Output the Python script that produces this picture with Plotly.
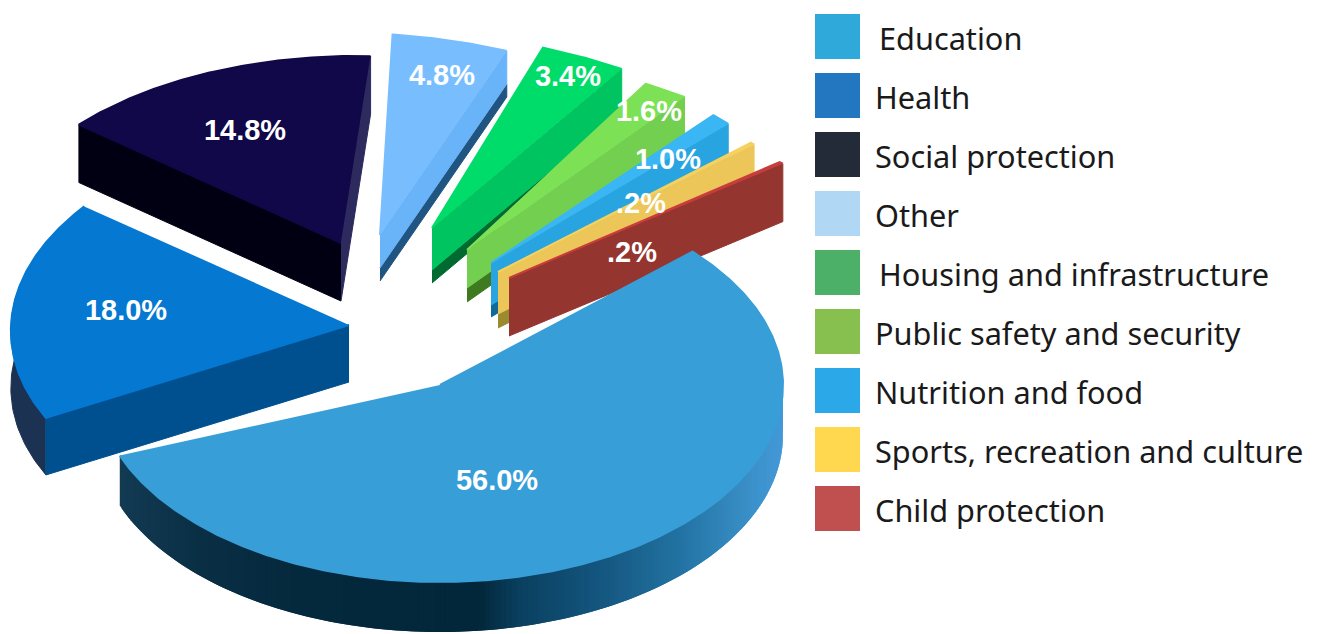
import math
import numpy as np
import plotly.graph_objects as go

# Budget shares, in percent, clockwise from the start angle
sectors = ["Education", "Health", "Social protection", "Other",
           "Housing and infrastructure", "Public safety and security",
           "Nutrition and food", "Sports, recreation and culture", "Child protection"]
shares = [56.0, 18.0, 14.8, 4.8, 3.4, 1.6, 1.0, 0.2, 0.2]

START_DEG = 42.6

# Placement of each exploded wedge: apex, radii, shear, rotation
apex_x = [440, 349, 341, 380, 432, 467, 491, 498, 509]
apex_y = [385, 325, 243, 235, 228, 250, 263, 272, 278]
radius_x = [343, 338, 350, 385, 395, 425, 330, 352, 372]
radius_y = [197, 198, 187, 202, 198, 207, 200, 186, 169]
shear = [0, 0.05, 0.074, -0.174, -0.288, -0.45, 0, 0, 0]
turn_deg = [0, 7, 4.5, 0, 0, 0, 0, 0, 0]

# Extrusion: main wall height and the darker foot below it
wall_h = [50, 57, 58, 33, 42, 38, 42, 42, 58]
foot_h = [0, 0, 0, 13, 13, 14, 12, 14, 0]

# Colours
top_colors = ["#389ED8", "#0578D2", "#100848", "#78BEFF", "#00DC6A",
              "#7DE155", "#3AB6F5", "#F5D260", "#C83C3C"]
wall_colors = [None, "#00508F", "#2D2A5E", "#69B3F8", "#00C45F",
               "#72CF50", "#28A5E0", "#ECC658", "#94352F"]
foot_colors = [None, None, None, "#1F5580", "#006A30",
               "#3E7A20", "#0F6A9A", "#9A8A30", None]
swatch_colors = ["#2FA8DA", "#2277C0", "#222B37", "#B0D8F5", "#4CB068",
                 "#88C050", "#2AA8E8", "#FFD850", "#C05050"]
SOCIAL_FRONT_WALL = "#000012"

# Label centres
label_x = [497, 126, 245, 442, 568, 649, 668, 641, 632]
label_y = [483, 313, 133, 78, 79, 114, 162, 206, 255]

# Legend layout
swatch_x = 837.5
swatch_y = [36.5, 95.5, 154.5, 213.5, 272.5, 331.5, 390.5, 449.5, 508.5]
legend_y = [37.5, 96.5, 155.5, 214.5, 273.5, 332.5, 391.5, 450.5, 509.5]
legend_text_x = [877, 873, 873, 873, 877, 873, 873, 873, 873]

# Shading of Education's outer wall along x
rim_x = [122, 200, 300, 480, 520, 600, 680, 750, 783]
rim_r = [18, 10, 4, 2, 10, 20, 34, 58, 68]
rim_g = [58, 47, 41, 39, 64, 86, 115, 144, 153]
rim_b = [82, 69, 61, 58, 96, 127, 162, 200, 216]


def sweep_bounds():
    bounds, angle = [], START_DEG
    for value in shares:
        sweep = value / sum(shares) * 360
        bounds.append((angle, angle - sweep))
        angle -= sweep
    return bounds


def rim_point(i, theta_deg):
    t = math.radians(theta_deg + turn_deg[i])
    rise = radius_y[i] * math.sin(t)
    return apex_x[i] + radius_x[i] * math.cos(t) + shear[i] * rise, apex_y[i] - rise


def polygon(fig, xs, ys, color, width=1):
    fig.add_trace(go.Scatter(x=list(xs), y=list(ys), mode="lines", fill="toself",
                             fillcolor=color, line=dict(color=color, width=width),
                             hoverinfo="skip", showlegend=False))


def edge_wall(fig, i, theta, color=None):
    rx, ry = rim_point(i, theta)
    ax, ay = apex_x[i], apex_y[i]
    h, f = wall_h[i], foot_h[i]
    if f:
        polygon(fig, [ax, rx, rx, ax], [ay + h, ry + h, ry + h + f, ay + h + f], foot_colors[i])
    polygon(fig, [ax, rx, rx, ax], [ay, ry, ry + h, ay + h], color or wall_colors[i])


def top_face(fig, i, a0, a1):
    arc = [rim_point(i, t) for t in np.linspace(a0, a1, max(4, int(abs(a1 - a0) * 2)))]
    polygon(fig, [apex_x[i]] + [p[0] for p in arc], [apex_y[i]] + [p[1] for p in arc],
            top_colors[i], width=2)


bounds = sweep_bounds()
fig = go.Figure()

# Wedges behind the main slice, left to right
for i in range(2, 9):
    a0, a1 = bounds[i]
    if sectors[i] == "Social protection":
        edge_wall(fig, i, a0, SOCIAL_FRONT_WALL)
    edge_wall(fig, i, a1)
    top_face(fig, i, a0, a1)

# Education: shaded outer wall in overlapping strips, then the top
a0, a1 = bounds[0]
angles = np.linspace(a1, a0, 220)
for t0, t1, t2 in zip(angles[:-2], angles[1:-1], angles[2:]):
    x0, y0 = rim_point(0, t0)
    x1, y1 = rim_point(0, t1)
    x2, y2 = rim_point(0, t2)
    mid = (x0 + x1) / 2
    shade = "rgb({:.0f},{:.0f},{:.0f})".format(np.interp(mid, rim_x, rim_r),
                                               np.interp(mid, rim_x, rim_g),
                                               np.interp(mid, rim_x, rim_b))
    h = wall_h[0]
    polygon(fig, [x0, x1, x2, x2, x1, x0], [y0, y1, y2, y2 + h, y1 + h, y0 + h], shade, width=0)
top_face(fig, 0, a0, a1)

# Health: radial wall, curved wall, then the top
a0, a1 = bounds[1]
arc = [rim_point(1, t) for t in np.linspace(a0, a0 - 40, 40)]
polygon(fig, [p[0] for p in arc] + [p[0] for p in reversed(arc)],
        [p[1] for p in arc] + [p[1] + wall_h[1] for p in reversed(arc)], "#1C3252")
edge_wall(fig, 1, a0)
top_face(fig, 1, a0, a1)

# Value labels
fig.add_trace(go.Scatter(
    x=label_x, y=label_y, mode="text",
    text=[f"{v:.1f}%".removeprefix("0") for v in shares],
    textposition="middle center",
    textfont=dict(family="Liberation Sans", size=29, color="white"),
    texttemplate="<b>%{text}</b>",
    hoverinfo="skip", showlegend=False))

# Legend: swatches and names
fig.add_trace(go.Scatter(
    x=[swatch_x] * len(sectors), y=swatch_y, mode="markers",
    marker=dict(symbol="square", size=45, color=swatch_colors, line=dict(width=0)),
    text=sectors, hoverinfo="text", showlegend=False))
annotations = [dict(x=tx, y=ty, xref="x", yref="y", text=name, showarrow=False,
                    xanchor="left", yanchor="middle",
                    font=dict(family="Noto Sans", size=30.7, color="#1A1A1A"))
               for tx, ty, name in zip(legend_text_x, legend_y, sectors)]

fig.update_layout(
    width=1318, height=634, margin=dict(l=0, r=0, t=0, b=0),
    paper_bgcolor="white", plot_bgcolor="white", annotations=annotations,
    xaxis=dict(range=[0, 1318], visible=False, fixedrange=True),
    yaxis=dict(range=[634, 0], visible=False, fixedrange=True),
)
fig.write_html("out.html")
